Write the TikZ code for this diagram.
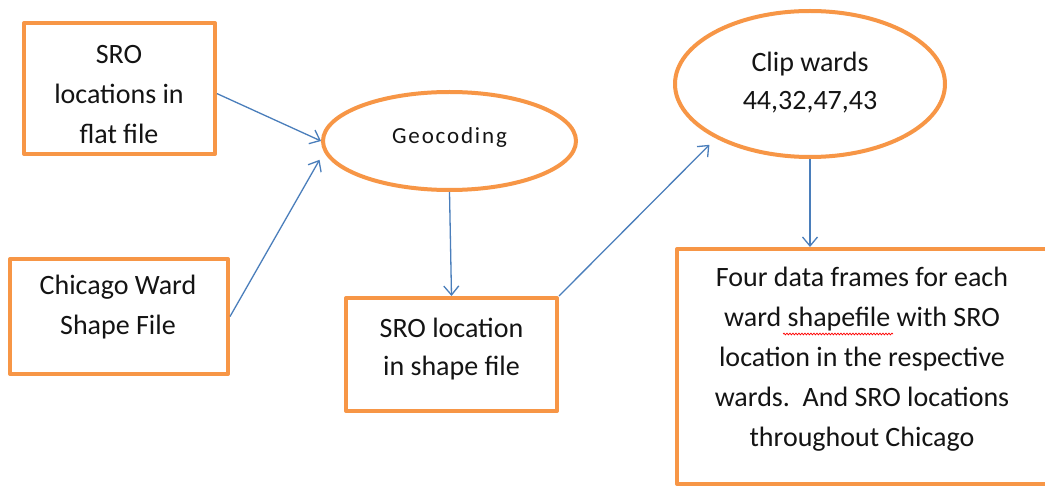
\documentclass[tikz,border=0pt]{standalone}
\usepackage{fontspec}
\setmainfont{Carlito}
\usetikzlibrary{shapes.geometric,arrows.meta,decorations.pathmorphing}
\definecolor{frame}{HTML}{F79646}
\definecolor{flow}{HTML}{4A7EBB}
\definecolor{ink}{HTML}{141414}
\begin{document}
\begin{tikzpicture}[x=1pt,y=-1pt,
  stepbox/.style={draw=frame,line width=4pt,line join=round,rectangle,inner sep=0pt},
  oval/.style={draw=frame,line width=4pt,ellipse,inner sep=0pt},
  txt/.style={text=ink,align=center,inner sep=0pt,anchor=north,font=\fontsize{28}{40}\selectfont},
  tighttxt/.style={txt,font=\fontsize{28}{38}\selectfont},
  flowarrow/.style={draw=flow,line width=1.3pt,-{Straight Barb[length=9pt,width=15pt]}}]
\useasboundingbox[fill=white] (0,0) rectangle (1045,489);
\clip (0,0) rectangle (1045,489);

% frames of the process steps
\node[stepbox,minimum width=191pt,minimum height=131pt] (flat) at (119.5,88.5) {};
\node[stepbox,minimum width=218pt,minimum height=115pt] (ward) at (119,316.5) {};
\node[stepbox,minimum width=211pt,minimum height=113pt] (shp) at (451.5,354.5) {};
\node[stepbox,minimum width=380pt,minimum height=235pt] (frames) at (867,366.5) {};
\node[oval,minimum width=253pt,minimum height=98pt] (geo) at (449.5,141) {};
\node[oval,minimum width=270pt,minimum height=146pt] (clip) at (810,84) {};

% texts of the steps
\node[txt] (flat-t) at (119,45) {SRO\\locations in\\flat file};
\node[txt] (ward-t) at (118,275) {Chicago Ward\\Shape File};
\node[tighttxt] (shp-t) at (451.5,318) {SRO location\\in shape file};
\node[txt] (frames-t) at (862,267) {Four data frames for each\\ward shapefile with SRO\\location in the respective\\wards.\ \ And SRO locations\\throughout Chicago};
\node[tighttxt] (clip-t) at (810,52) {Clip wards\\44,32,47,43};
\node[txt,font=\fontsize{23}{28}\selectfont\addfontfeature{LetterSpace=8}] (geo-t) at (449.5,127) {Geocoding};

% spell-check wave under "shapefile"
\draw[red,line width=0.7pt,decorate,decoration={snake,segment length=3pt,amplitude=0.9pt}] (783,334) -- (893,334);

% flow of the data
\draw[flowarrow] (flat.-3) -- (geo.west);
\draw[flowarrow,shorten >=9pt] (ward.east) -- (geo.185);
\draw[flowarrow] (geo.south) -- (shp.north);
\draw[flowarrow,shorten >=9pt] (shp.north east) -- (clip.210);
\draw[flowarrow] (clip.south) -- (clip.south |- frames.north);
\end{tikzpicture}
\end{document}
